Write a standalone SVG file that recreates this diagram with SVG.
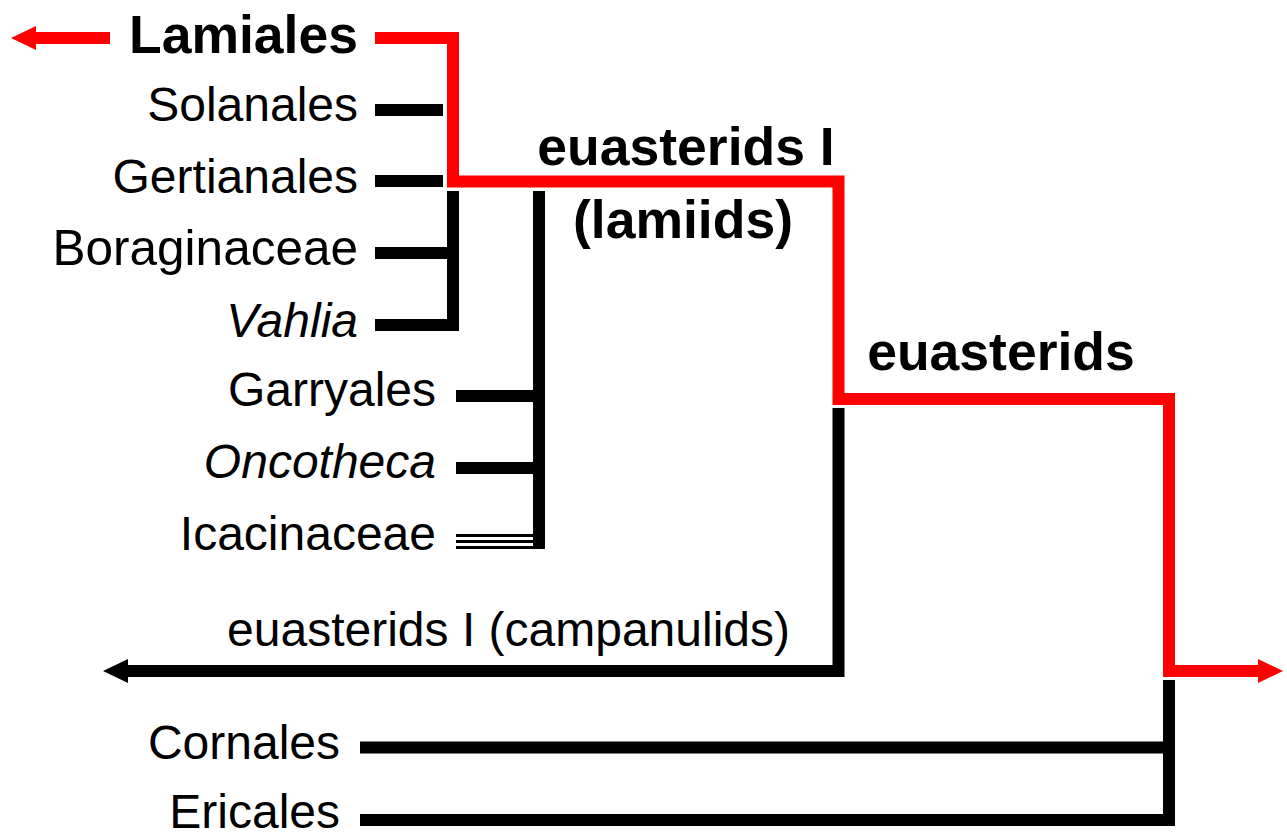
<svg xmlns="http://www.w3.org/2000/svg" width="1287" height="836" viewBox="0 0 1287 836">
<style>
.lbl{font-family:"Liberation Sans",Arial,sans-serif;font-size:48px;fill:#000}
.b{font-weight:bold;font-size:53.5px}
.it{font-style:italic}
.red{fill:none;stroke:#ff0000;stroke-width:12;stroke-linejoin:miter;stroke-linecap:butt}
.blk{fill:none;stroke:#000;stroke-width:12;stroke-linejoin:miter;stroke-linecap:butt}
.thin{fill:none;stroke:#000;stroke-width:3}
</style>
<defs>
<marker id="arrRed" markerUnits="userSpaceOnUse" markerWidth="26" markerHeight="24" refX="0" refY="12" orient="auto" overflow="visible">
<path d="M0 0 L25 12 L0 24 Z" fill="#ff0000"/>
</marker>
<marker id="arrBlk" markerUnits="userSpaceOnUse" markerWidth="26" markerHeight="24" refX="0" refY="12" orient="auto" overflow="visible">
<path d="M0 0 L25 12 L0 24 Z" fill="#000"/>
</marker>
</defs>
<rect width="1287" height="836" fill="#fff"/>
<g id="connectors">
<path class="red" d="M110 38 H36" marker-end="url(#arrRed)"/>
<path class="red" d="M375 38 H453 V181.5 H838.5 V399 H1169 V671 H1258" marker-end="url(#arrRed)"/>
<path class="blk" d="M375 110 H443"/>
<path class="blk" d="M375 181 H443"/>
<path class="blk" d="M375 253 H447"/>
<path class="blk" d="M453 191 V325 H375"/>
<path class="blk" d="M539 191 V549"/>
<path class="blk" d="M456 396 H533"/>
<path class="blk" d="M456 468 H533"/>
<path class="thin" d="M456 535.5 H533 M456 541.5 H533 M456 547.5 H533"/>
<path class="blk" d="M838.5 408 V671 H128" marker-end="url(#arrBlk)"/>
<path class="blk" d="M1169 680 V820 H360"/>
<path class="blk" d="M360 747.5 H1163"/>
</g>
<g id="lamiales"><text class="lbl b" x="358" y="53" text-anchor="end">Lamiales</text></g>
<g id="solanales"><text class="lbl" x="358" y="121" text-anchor="end">Solanales</text></g>
<g id="gertianales"><text class="lbl" x="358" y="193" text-anchor="end">Gertianales</text></g>
<g id="boraginaceae"><text class="lbl" x="358" y="265" text-anchor="end" style="font-size:49.5px">Boraginaceae</text></g>
<g id="vahlia"><text class="lbl it" x="358" y="337" text-anchor="end">Vahlia</text></g>
<g id="garryales"><text class="lbl" x="436" y="406" text-anchor="end">Garryales</text></g>
<g id="oncotheca"><text class="lbl it" x="436" y="478" text-anchor="end">Oncotheca</text></g>
<g id="icacinaceae"><text class="lbl" x="436" y="550" text-anchor="end">Icacinaceae</text></g>
<g id="euasterids-lamiids"><text class="lbl b" x="686" y="165" text-anchor="middle">euasterids I</text><text class="lbl b" x="683" y="238" text-anchor="middle">(lamiids)</text></g>
<g id="euasterids"><text class="lbl b" x="1001" y="370" text-anchor="middle">euasterids</text></g>
<g id="campanulids"><text class="lbl" x="790" y="646" text-anchor="end">euasterids I (campanulids)</text></g>
<g id="cornales"><text class="lbl" x="340" y="759" text-anchor="end">Cornales</text></g>
<g id="ericales"><text class="lbl" x="340" y="828" text-anchor="end">Ericales</text></g>
</svg>
